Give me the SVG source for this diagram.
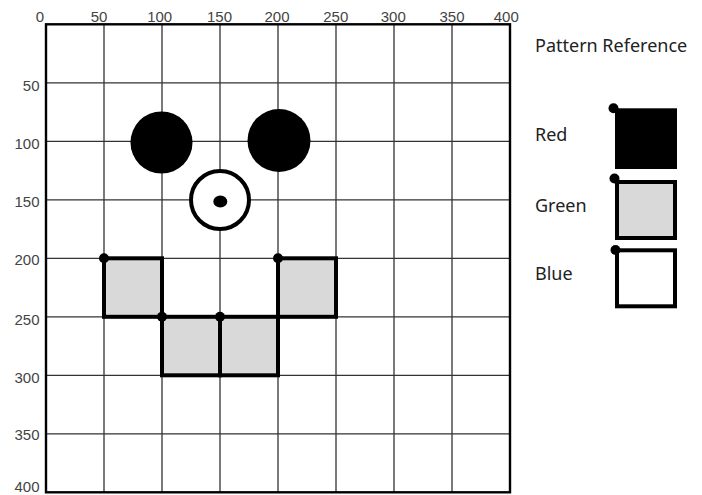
<svg xmlns="http://www.w3.org/2000/svg" width="702" height="495" viewBox="0 0 702 495">
<style>
.grid{stroke:#333;stroke-width:1.3;fill:none}
.frame{stroke:#000;stroke-width:2.4;fill:none}
.ax{font-family:"Liberation Sans",Arial,sans-serif;font-size:15px;fill:#444}
.axl{text-anchor:end}
.axt{text-anchor:middle}
.cell{fill:#d9d9d9;stroke:#000;stroke-width:4}
.dot{fill:#000}
.leg{font-family:"Noto Sans","Open Sans",sans-serif;font-size:18px;fill:#222}
</style>
<rect width="702" height="495" fill="#fff"/>
<g id="grid">
<path class="grid" d="M104 24.3V492.3M162 24.3V492.3M220 24.3V492.3M278 24.3V492.3M336 24.3V492.3M394 24.3V492.3M452 24.3V492.3M46 82.8H510M46 141.3H510M46 199.8H510M46 258.3H510M46 316.8H510M46 375.3H510M46 433.8H510"/>
<rect class="frame" x="46" y="24.3" width="464" height="468"/>
</g>
<g id="axis-labels" class="ax">
<text class="axt" x="40" y="21.5">0</text>
<text class="axt" x="99" y="21.5">50</text>
<text class="axt" x="159.7" y="21.5">100</text>
<text class="axt" x="219.5" y="21.5">150</text>
<text class="axt" x="277" y="21.5">200</text>
<text class="axt" x="335.8" y="21.5">250</text>
<text class="axt" x="393.3" y="21.5">300</text>
<text class="axt" x="452" y="21.5">350</text>
<text class="axt" x="506.3" y="21.5">400</text>
<text class="axl" x="39.5" y="90.5">50</text>
<text class="axl" x="39.5" y="149">100</text>
<text class="axl" x="39.5" y="207">150</text>
<text class="axl" x="39.5" y="265">200</text>
<text class="axl" x="39.5" y="324.8">250</text>
<text class="axl" x="39.5" y="383.3">300</text>
<text class="axl" x="39.5" y="440">350</text>
<text class="axl" x="39.5" y="491.7">400</text>
</g>
<g id="eye-left"><ellipse cx="161.5" cy="142.5" rx="31" ry="31" fill="#000"/></g>
<g id="eye-right"><ellipse cx="279" cy="140.5" rx="31.5" ry="31.5" fill="#000"/></g>
<g id="nose">
<circle cx="220" cy="200" r="29" fill="#fff" stroke="#000" stroke-width="4"/>
<ellipse cx="220.3" cy="201.5" rx="7" ry="6" fill="#000"/>
</g>
<g id="cell-1"><rect class="cell" x="104" y="258.3" width="58" height="58.5"/><circle class="dot" cx="104" cy="258.3" r="5"/></g>
<g id="cell-2"><rect class="cell" x="162" y="316.8" width="58" height="58.5"/><circle class="dot" cx="162" cy="316.8" r="5"/></g>
<g id="cell-3"><rect class="cell" x="220" y="316.8" width="58" height="58.5"/><circle class="dot" cx="220" cy="316.8" r="5"/></g>
<g id="cell-4"><rect class="cell" x="278" y="258.3" width="58" height="58.5"/><circle class="dot" cx="278" cy="258.3" r="5"/></g>
<g id="legend">
<text class="leg" x="535" y="51.5">Pattern Reference</text>
<g id="legend-red">
<text class="leg" x="535" y="140.7">Red</text>
<rect x="617" y="110.3" width="58" height="56.7" fill="#000" stroke="#000" stroke-width="4"/>
<circle class="dot" cx="613.5" cy="108.3" r="5"/>
</g>
<g id="legend-green">
<text class="leg" x="535" y="211.7">Green</text>
<rect x="617" y="182" width="58" height="56" fill="#d9d9d9" stroke="#000" stroke-width="4"/>
<circle class="dot" cx="614.5" cy="178.5" r="5"/>
</g>
<g id="legend-blue">
<text class="leg" x="535" y="280">Blue</text>
<rect x="617" y="250.3" width="58" height="56" fill="#fff" stroke="#000" stroke-width="4"/>
<circle class="dot" cx="615.5" cy="250" r="5"/>
</g>
</g>
<g id="connectors"/>
</svg>
